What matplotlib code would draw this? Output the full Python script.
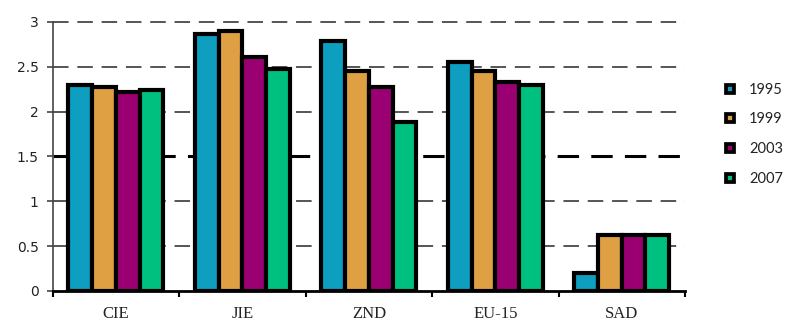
import numpy as np
import matplotlib
matplotlib.use("Agg")
import matplotlib.pyplot as plt
from matplotlib.lines import Line2D

# Data
categories = ["CIE", "JIE", "ZND", "EU-15", "SAD"]
years = ["1995", "1999", "2003", "2007"]
v1995 = [2.30, 2.87, 2.79, 2.55, 0.20]
v1999 = [2.28, 2.90, 2.45, 2.45, 0.62]
v2003 = [2.22, 2.61, 2.28, 2.33, 0.62]
v2007 = [2.245, 2.48, 1.88, 2.30, 0.62]
series = [v1995, v1999, v2003, v2007]
colors = ["#0E9EC0", "#DFA043", "#9B0073", "#00C07F"]
yticks = [0, 0.5, 1, 1.5, 2, 2.5, 3]
ytick_labels = ["0", "0.5", "1", "1.5", "2", "2.5", "3"]

fig = plt.figure(figsize=(7.85, 3.22), dpi=100)
ax = fig.add_axes([0.0671, 0.0963, 0.8055, 0.8354])

n = len(categories)
bw = 0.1875
x = np.arange(n)
for i, (vals, c) in enumerate(zip(series, colors)):
    offs = (i - 1.5) * bw
    ax.bar(x + offs, vals, width=bw, color=c, edgecolor="black",
           linewidth=3.0, zorder=3)

ax.set_xlim(-0.5, n - 0.5)
ax.set_ylim(0, 3)

# Dashed horizontal gridlines, with the 1.5 line drawn heavier
for yv in yticks[1:]:
    if yv == 1.5:
        ax.axhline(yv, color="black", lw=2.2, dashes=(7, 4), zorder=1,
                   clip_on=False)
    else:
        ax.axhline(yv, color="#555555", lw=1.4, dashes=(8, 4.5), zorder=1,
                   clip_on=False)

for s in ["top", "right"]:
    ax.spines[s].set_visible(False)
ax.spines["left"].set_color("#444444")
ax.spines["left"].set_linewidth(1.2)
ax.spines["bottom"].set_color("black")
ax.spines["bottom"].set_linewidth(2.0)
ax.spines["bottom"].set_zorder(4)

ax.set_yticks(yticks)
ax.set_yticklabels(ytick_labels, fontsize=10, color="#222222",
                   family="DejaVu Sans")
ax.tick_params(axis="y", length=4, width=1.2, color="#444444", pad=6)

# Category ticks sit at group boundaries, labels centred in each group
ax.set_xticks(np.arange(-0.5, n, 1.0))
ax.set_xticklabels([])
ax.set_xticks(x, minor=True)
ax.set_xticklabels(categories, minor=True, fontsize=12,
                   family="Liberation Serif", color="#222222")
ax.tick_params(axis="x", which="major", length=4, width=1.5,
               color="black", direction="out")
ax.tick_params(axis="x", which="minor", length=0, pad=11)

handles = [Line2D([0], [0], marker="s", linestyle="none", markersize=5.2,
                  markerfacecolor=c, markeredgecolor="black",
                  markeredgewidth=2.7) for c in colors]
fig.legend(handles, years, loc="center left", bbox_to_anchor=(0.922, 0.583),
           frameon=False, prop={"family": "Lato", "size": 10.5},
           labelcolor="#222222", handlelength=0.8, handletextpad=0.93,
           labelspacing=1.08, borderaxespad=0, borderpad=0)

fig.savefig("out.png", dpi=100)
